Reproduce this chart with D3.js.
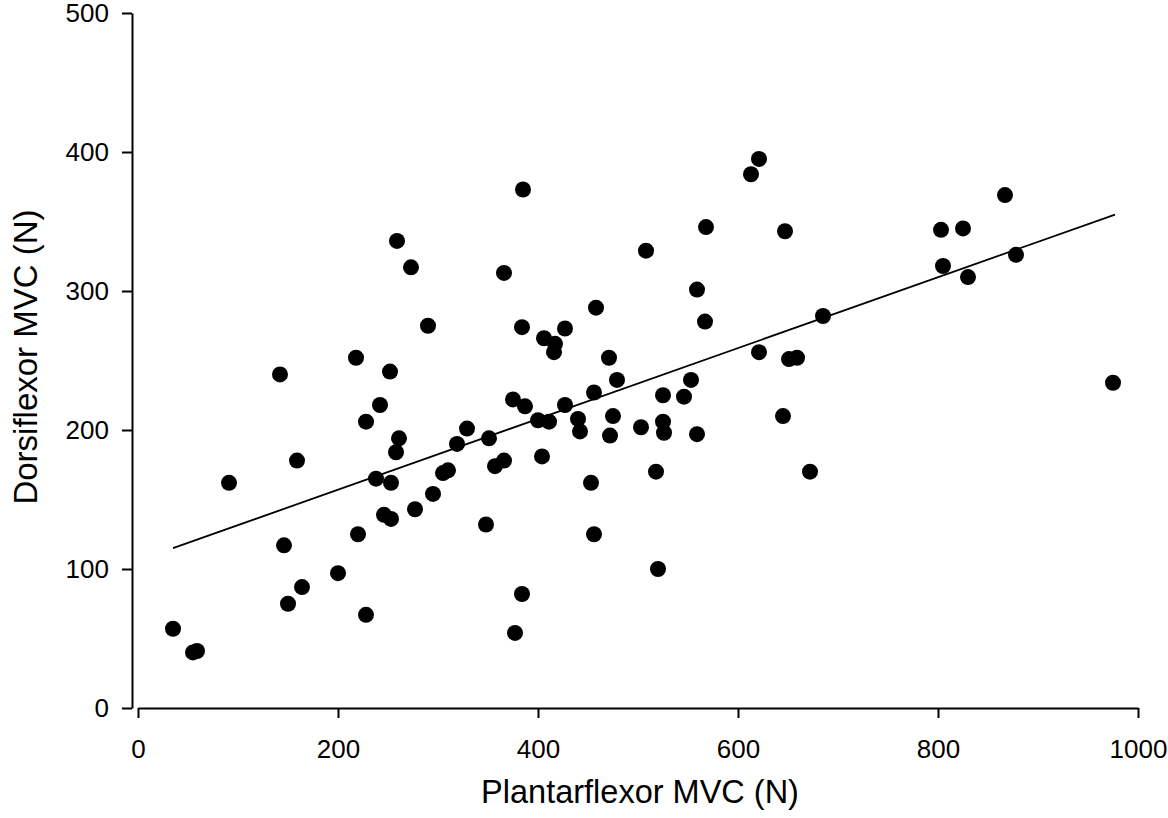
<!DOCTYPE html>
<html>
<head>
<meta charset="utf-8">
<script src="https://cdn.jsdelivr.net/npm/d3@7"></script>
<style>
  html, body { margin: 0; padding: 0; background: #fff; }
  svg { display: block; font-family: "Liberation Sans", Arial, sans-serif; }
</style>
</head>
<body>
<svg id="chart"></svg>
<script>
'use strict';

// plantarflexor MVC (N) per subject
const plantarMVC = [35, 55, 59, 91, 142, 146, 150, 159, 164, 200,
  218, 220, 228, 228, 238, 242, 246, 252, 253, 253,
  258, 259, 261, 273, 277, 290, 295, 305, 310, 319,
  329, 348, 351, 357, 366, 366, 375, 377, 384, 384,
  385, 387, 400, 404, 406, 411, 416, 417, 427, 427,
  440, 442, 453, 456, 456, 458, 471, 472, 475, 479,
  503, 508, 518, 520, 525, 525, 526, 546, 553, 559,
  559, 567, 568, 613, 621, 621, 645, 647, 651, 659,
  672, 685, 803, 805, 825, 830, 867, 878, 975];

// dorsiflexor MVC (N), same order
const dorsiMVC = [57, 40, 41, 162, 240, 117, 75, 178, 87, 97,
  252, 125, 206, 67, 165, 218, 139, 242, 136, 162,
  184, 336, 194, 317, 143, 275, 154, 169, 171, 190,
  201, 132, 194, 174, 178, 313, 222, 54, 274, 82,
  373, 217, 207, 181, 266, 206, 256, 262, 273, 218,
  208, 199, 162, 227, 125, 288, 252, 196, 210, 236,
  202, 329, 170, 100, 225, 206, 198, 224, 236, 197,
  301, 278, 346, 384, 395, 256, 210, 343, 251, 252,
  170, 282, 344, 318, 345, 310, 369, 326, 234];

// fitted line end points
const fitX = [35, 977];
const fitY = [115, 355];

const xTicks = [0, 200, 400, 600, 800, 1000];
const yTicks = [0, 100, 200, 300, 400, 500];

const width = 1168;
const height = 818;

const svg = d3.select('#chart')
  .attr('width', width)
  .attr('height', height);

const x = d3.scaleLinear().domain([0, 1000]).range([138, 1138]);
const y = d3.scaleLinear().domain([0, 500]).range([708, 13]);

// axes
const xAxis = svg.append('g')
  .attr('transform', `translate(0,${y(0)})`)
  .call(d3.axisBottom(x).tickValues(xTicks).tickFormat(d3.format('d'))
    .tickSize(10).tickSizeOuter(0).tickPadding(22));

const yAxis = svg.append('g')
  .attr('transform', `translate(${x(0) - 6},0)`)
  .call(d3.axisLeft(y).tickValues(yTicks).tickFormat(d3.format('d'))
    .tickSize(10).tickSizeOuter(0).tickPadding(13));

[xAxis, yAxis].forEach(function(g) {
  g.attr('font-family', null).attr('font-size', null);
  g.selectAll('path, line').attr('stroke', '#000').attr('stroke-width', 2);
  g.selectAll('text').attr('fill', '#000').style('font-size', '26px');
});

// regression line
const line = d3.line()
  .x(function(d) { return x(d[0]); })
  .y(function(d) { return y(d[1]); });

svg.append('path')
  .datum(d3.zip(fitX, fitY))
  .attr('d', line)
  .attr('fill', 'none')
  .attr('stroke', '#000')
  .attr('stroke-width', 1.8);

// points
svg.append('g')
  .selectAll('circle')
  .data(d3.zip(plantarMVC, dorsiMVC))
  .enter()
  .append('circle')
  .attr('cx', function(d) { return x(d[0]); })
  .attr('cy', function(d) { return y(d[1]); })
  .attr('r', 8)
  .attr('fill', '#000');

// axis titles
svg.append('text')
  .attr('x', 640)
  .attr('y', 803)
  .attr('text-anchor', 'middle')
  .style('font-size', '32.5px')
  .text('Plantarflexor MVC (N)');

svg.append('text')
  .attr('transform', 'translate(37,357) rotate(-90)')
  .attr('text-anchor', 'middle')
  .style('font-size', '33px')
  .text('Dorsiflexor MVC (N)');
</script>
</body>
</html>
